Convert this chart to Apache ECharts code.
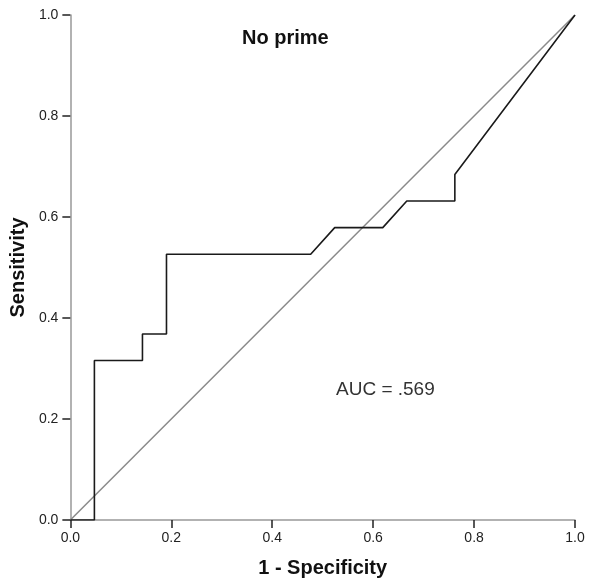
<!DOCTYPE html>
<html>
<head>
<meta charset="utf-8">
<style>
  html, body { margin: 0; padding: 0; background: #fff; }
  #chart { width: 589px; height: 584px; }
</style>
<script src="https://cdn.jsdelivr.net/npm/echarts@6/dist/echarts.min.js"></script>
</head>
<body>
<div id="chart"></div>
<script>
// ROC curve: 21 negatives, 19 positives
const fprValues = [0, 1/21, 1/21, 3/21, 3/21, 4/21, 4/21, 10/21, 11/21, 13/21, 14/21, 16/21, 16/21, 1];
const tprValues = [0, 0, 6/19, 6/19, 7/19, 7/19, 10/19, 10/19, 11/19, 11/19, 12/19, 12/19, 13/19, 1];
// reference (chance) line
const refX = [0, 1];
const refY = [0, 1];
const tickValues = [0, 0.2, 0.4, 0.6, 0.8, 1.0];
const titleText = 'No prime';
const aucText = 'AUC = .569';
const xAxisName = '1 - Specificity';
const yAxisName = 'Sensitivity';

const FONT = '"Liberation Sans", Arial, sans-serif';

const chart = echarts.init(document.getElementById('chart'), null, { renderer: 'canvas' });

const axisCommon = {
  type: 'value',
  min: 0,
  max: 1,
  interval: 0.2,
  nameLocation: 'middle',
  nameTextStyle: { fontFamily: FONT, fontSize: 20, fontWeight: 'bold', color: '#111' },
  axisLine: { show: true, lineStyle: { color: '#999', width: 1.5 } },
  axisTick: { show: true, length: 8, lineStyle: { color: '#222', width: 1.5 } },
  axisLabel: {
    fontFamily: FONT, fontSize: 14, color: '#222',
    formatter: v => v.toFixed(1)
  },
  splitLine: { show: false }
};

chart.setOption({
  animation: false,
  backgroundColor: '#fff',
  title: [
    {
      text: titleText,
      left: 237, top: 23,
      textStyle: { fontFamily: FONT, fontSize: 20, fontWeight: 'bold', color: '#111' }
    },
    {
      text: aucText,
      left: 331, top: 375,
      textStyle: { fontFamily: FONT, fontSize: 19, fontWeight: 'normal', color: '#333' }
    }
  ],
  grid: { left: 70, right: 14, top: 15, bottom: 64, containLabel: false },
  xAxis: Object.assign({}, axisCommon, {
    name: xAxisName,
    nameGap: 38,
    axisLabel: Object.assign({}, axisCommon.axisLabel, { margin: 11 })
  }),
  yAxis: Object.assign({}, axisCommon, {
    name: yAxisName,
    nameGap: 42,
    axisLabel: Object.assign({}, axisCommon.axisLabel, { margin: 12 })
  }),
  series: [
    {
      name: 'reference',
      type: 'line',
      data: refX.map((x, i) => [x, refY[i]]),
      showSymbol: false,
      lineStyle: { color: '#8a8a8a', width: 1.5 },
      z: 2
    },
    {
      name: 'roc',
      type: 'line',
      data: fprValues.map((x, i) => [x, tprValues[i]]),
      showSymbol: false,
      lineStyle: { color: '#1a1a1a', width: 1.6 },
      z: 3
    }
  ]
});
</script>
</body>
</html>
